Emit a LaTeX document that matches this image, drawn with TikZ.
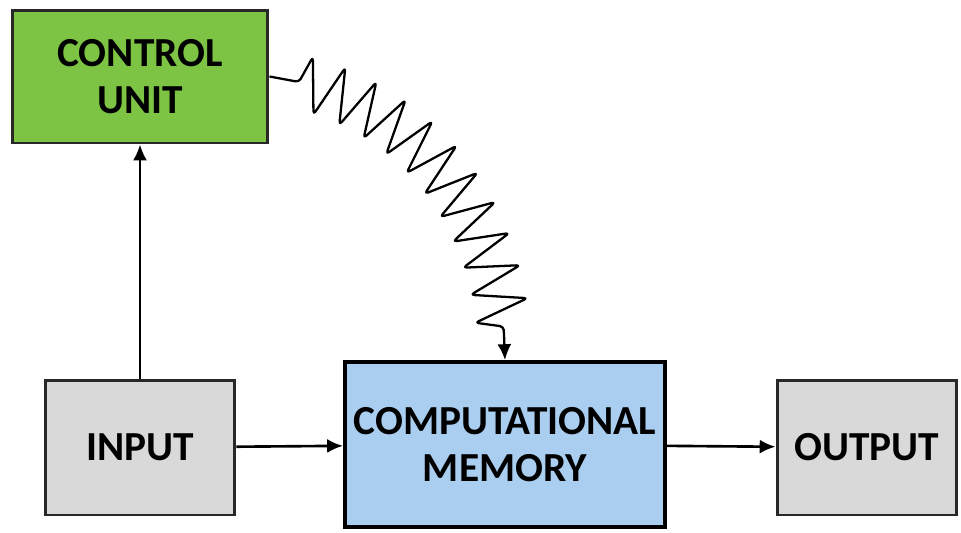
\documentclass[tikz,border=0pt]{standalone}
\usepackage{fontspec}
\setmainfont{Carlito}
\usepackage{tikz}
\usetikzlibrary{arrows.meta,positioning,shapes,decorations.pathmorphing}
\definecolor{cugreen}{RGB}{126,196,68}
\definecolor{iogray}{RGB}{217,217,217}
\definecolor{memblue}{RGB}{170,206,240}
\definecolor{edgegray}{RGB}{40,40,40}

\begin{document}
\begin{tikzpicture}[x=0.02cm, y=-0.02cm, >={Latex[length=9pt,width=8pt]},
  block/.style={rectangle,draw=edgegray,line width=1.7pt,align=center,inner sep=0pt,
    font=\bfseries\fontsize{23.5}{26.5}\selectfont},
  link/.style={->,line width=1.5pt}]
\useasboundingbox (0,0) rectangle (961,532);
\begin{scope}
\node[block,fill=cugreen,minimum width=5.12cm,minimum height=2.66cm] (cu) at (140,76.5) {CONTROL\\UNIT};
\node[block,fill=iogray,minimum width=3.8cm,minimum height=2.7cm] (inp) at (140,447.5) {INPUT};
\node[block,fill=memblue,draw=black,line width=2.3pt,minimum width=6.4cm,minimum height=3.3cm] (mem) at (505,444.5) {COMPUTATIONAL\\MEMORY};
\node[block,fill=iogray,minimum width=3.6cm,minimum height=2.7cm] (out) at (867,447.5) {OUTPUT};
\end{scope}
\begin{scope}
\draw[link] (inp) -- (cu);
\draw[link] (inp) -- (mem);
\draw[link] (mem) -- (out);
\draw[->,line width=1.3pt,line join=round,rounded corners=2pt,decorate,
  decoration={zigzag,segment length=0.62cm,amplitude=0.55cm,pre length=0.6cm,post length=0.55cm}]
  (cu.east) .. controls (410,95) and (505,210) .. (mem.north);
\end{scope}
\end{tikzpicture}
\end{document}
